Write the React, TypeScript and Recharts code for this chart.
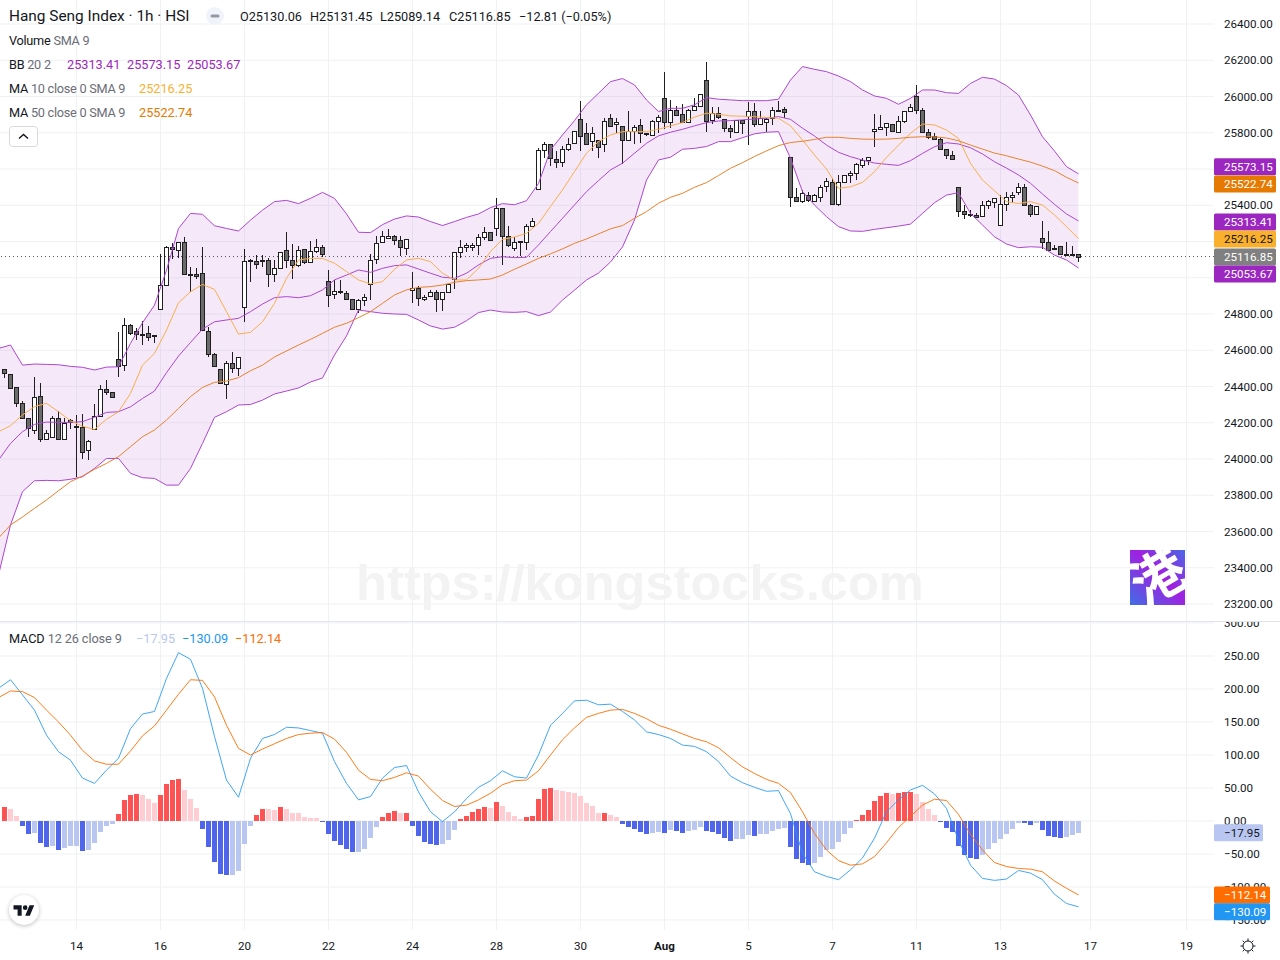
import React from "react";
import { ComposedChart, Bar, Line, Area, XAxis, YAxis, CartesianGrid, ReferenceLine, ReferenceDot } from "recharts";

const opens = [
24494,24467,24395,24307,24229,24158,24345,24108,24119,24229,
24113,24214,24181,24174,24047,24163,24240,24389,24367,24550,
24516,24737,24704,24687,24693,24684,24825,24958,25167,25151,
25195,25019,25019,25024,24704,24577,24494,24412,24528,24500,
24837,25096,25090,25096,25096,25019,25052,25151,25096,25069,
25157,25085,25146,25168,24980,24909,24925,24914,24881,24826,
24876,24964,25102,25196,25218,25229,25207,25162,24931,24942,
24881,24898,24920,24881,24920,24991,25140,25168,25170,25179,
25223,25251,25273,25383,25229,25162,25201,25196,25284,25488,
25703,25737,25654,25637,25709,25742,25874,25797,25753,25759,
25737,25880,25847,25836,25759,25808,25841,25797,25786,25863,
25990,25858,25924,25902,25858,25924,25946,26090,25869,25908,
25874,25825,25806,25869,25891,25919,25847,25858,25880,25928,
25930,25665,25444,25422,25455,25425,25447,25504,25526,25409,
25526,25565,25576,25620,25648,25808,25819,25830,25846,25802,
25863,25918,26001,25923,25802,25780,25763,25708,25675,25499,
25366,25350,25344,25339,25399,25416,25289,25405,25444,25471,
25499,25399,25350,25217,25195,25162,25173,25129,25129,25130.06];
const closes = [
24476,24393,24307,24228,24172,24340,24108,24146,24229,24113,
24201,24205,24174,24041,24097,24240,24384,24367,24340,24511,
24737,24693,24687,24685,24675,24682,24958,25167,25156,25195,
25019,25017,25007,24710,24577,24511,24417,24528,24500,24561,
25090,25092,25074,25094,25019,25052,25140,25096,25069,25151,
25085,25146,25168,25129,24903,24925,24923,24881,24826,24876,
24892,25096,25190,25229,25229,25207,25168,25212,24945,24887,
24892,24920,24881,24920,24964,25140,25168,25179,25179,25223,
25251,25207,25383,25229,25179,25196,25199,25284,25311,25703,
25737,25659,25637,25709,25737,25808,25781,25737,25797,25720,
25863,25836,25858,25759,25808,25830,25797,25792,25863,25886,
25858,25924,25897,25858,25924,25946,26012,25863,25908,25886,
25825,25808,25869,25852,25919,25847,25880,25874,25924,25924,
25917,25444,25422,25466,25428,25455,25499,25532,25409,25526,
25565,25576,25626,25648,25668,25819,25830,25852,25808,25863,
25918,25940,25923,25802,25775,25763,25708,25675,25653,25366,
25350,25348,25333,25399,25421,25438,25405,25444,25455,25499,
25399,25350,25394,25195,25151,25157,25129,25127,25127,25116.85];
const highs = [
24498,24467,24395,24320,24229,24454,24418,24159,24240,24264,
24229,24223,24242,24248,24105,24303,24408,24435,24367,24699,
24776,24744,24721,24761,24733,24684,25131,25175,25190,25195,
25223,25057,25052,25167,24726,24583,24494,24539,24588,24561,
25156,25101,25123,25123,25107,25098,25140,25253,25186,25175,
25157,25203,25214,25181,25043,24988,24990,24925,24881,24881,
24909,25131,25231,25258,25269,25236,25231,25212,25034,24955,
24905,24933,24933,24920,24964,25140,25208,25190,25190,25240,
25280,25251,25440,25383,25286,25225,25201,25295,25330,25714,
25748,25737,25698,25726,25770,25808,25974,25852,25829,25759,
25880,25902,25880,25836,25919,25841,25874,25801,25869,25897,
26134,25979,25946,25957,25930,25990,26012,26189,25941,25941,
25874,25841,25869,25869,25968,25963,25919,25880,25941,25974,
25941,25665,25494,25485,25475,25460,25512,25548,25548,25565,
25565,25587,25633,25659,25668,25901,25896,25852,25846,25890,
25918,25957,26063,25935,25819,25797,25769,25708,25697,25499,
25399,25372,25355,25421,25429,25438,25455,25473,25473,25521,
25515,25405,25394,25313,25258,25181,25173,25197,25175,25131.45];
const lows = [
24448,24390,24288,24222,24122,24137,24095,24108,24119,24113,
24113,24168,23899,23999,23994,24163,24240,24353,24340,24454,
24487,24684,24656,24629,24651,24642,24825,24958,25101,25109,
25019,24923,24993,24710,24564,24511,24417,24333,24476,24458,
24757,24978,25046,25057,24950,24979,25052,25052,24995,25058,
25076,25085,25139,25116,24841,24883,24911,24881,24826,24808,
24844,24879,25076,25196,25212,25181,25120,25126,24861,24844,
24874,24896,24813,24819,24914,24936,25107,25144,25148,25126,
25208,25207,25231,25072,25168,25150,25120,25153,25284,25488,
25659,25619,25608,25613,25698,25742,25702,25733,25702,25663,
25696,25830,25801,25626,25753,25740,25742,25783,25786,25797,
25819,25825,25897,25858,25858,25924,25946,25806,25847,25874,
25803,25770,25797,25794,25733,25829,25847,25806,25845,25913,
25880,25393,25422,25411,25417,25425,25420,25475,25403,25398,
25526,25521,25539,25603,25622,25723,25813,25782,25808,25797,
25852,25918,25901,25797,25763,25763,25708,25653,25653,25335,
25326,25333,25333,25339,25381,25386,25289,25370,25410,25455,
25399,25335,25350,25157,25151,25157,25123,25127,25127,25089.14];

// Indicator lines, read at every second bar starting one bar left of the view.
const bbUpper = [
24610,24629,24518,24524,24522,24520,24511,24506,24491,24507,24509,24638,24752,24849,25042,25272,25355,25350,25287,25272,25258,25318,25373,
25420,25427,25409,25438,25471,25438,25352,25251,25249,25293,25324,25341,25335,25310,25288,25310,25333,25352,25387,25409,25403,25425,25520,
25705,25788,25867,25954,26018,26082,26099,26064,25981,25917,25935,25935,25954,25994,25985,25981,25977,25977,25977,25985,26091,26165,
26150,26137,26113,26082,26036,26003,25990,25957,25990,26036,26036,26021,26017,26072,26106,26096,26060,26008,25898,25778,25699,25613,25573.15];
const bbLower = [
23360,23636,23820,23880,23882,23880,23888,23902,23948,24003,24003,23921,23897,23893,23856,23856,23948,24086,24230,24261,24298,24301,24325,
24359,24375,24392,24425,24447,24574,24679,24822,24813,24804,24800,24798,24767,24734,24717,24727,24763,24808,24822,24811,24809,24813,24791,
24811,24877,24932,24988,25026,25087,25170,25319,25539,25650,25665,25709,25714,25724,25751,25751,25773,25794,25803,25806,25659,25475,
25401,25337,25282,25258,25256,25267,25276,25285,25296,25355,25414,25456,25469,25355,25291,25226,25186,25166,25171,25168,25125,25098,25053.67];
const bbBasis = [
23994,24086,24151,24191,24204,24202,24202,24206,24230,24257,24261,24288,24334,24375,24476,24568,24643,24717,24757,24767,24776,24813,24855,
24890,24896,24890,24901,24933,24988,25015,25043,25030,25052,25067,25071,25048,25025,25003,24997,25025,25071,25107,25116,25111,25113,25181,
25255,25328,25402,25475,25536,25595,25632,25687,25742,25783,25803,25819,25838,25856,25865,25867,25871,25876,25880,25889,25874,25825,
25782,25732,25692,25668,25649,25633,25626,25620,25646,25686,25723,25745,25738,25717,25683,25640,25605,25567,25521,25462,25405,25352,25313.41];
const ma10 = [
24150,24184,24243,24289,24307,24261,24211,24181,24163,24219,24261,24362,24518,24583,24711,24862,24923,24963,24936,24813,24689,24699,24757,
24859,24997,25098,25107,25107,25080,25034,24988,24966,24979,25047,25098,25107,25089,25025,24988,24988,25052,25144,25212,25225,25245,25300,
25393,25485,25586,25687,25751,25788,25806,25806,25806,25819,25838,25856,25886,25908,25902,25893,25891,25889,25884,25880,25838,25760,
25677,25600,25493,25502,25526,25585,25664,25732,25797,25848,25843,25815,25769,25631,25539,25480,25420,25410,25420,25401,25346,25282,25216.25];
const ma50 = [
23564,23636,23680,23728,23774,23825,23875,23906,23943,23976,24013,24068,24123,24160,24215,24279,24344,24395,24423,24430,24449,24487,24518,
24563,24596,24629,24660,24693,24727,24749,24780,24813,24859,24905,24933,24947,24951,24960,24975,24984,24988,24993,25015,25047,25076,25107,
25132,25159,25190,25214,25242,25270,25288,25328,25365,25411,25444,25466,25499,25525,25564,25604,25635,25669,25700,25729,25746,25753,
25763,25775,25775,25769,25765,25764,25765,25769,25775,25778,25778,25771,25756,25732,25710,25688,25673,25655,25638,25616,25591,25554,25522.74];
const macdLine = [
201,214,191,168,130,105,92,65,57,77,95,140,162,166,216,255,245,201,128,62,36,95,125,
131,142,141,137,133,90,57,32,37,65,81,84,44,14,-1,14,34,51,61,76,67,65,100,
145,163,182,183,176,177,166,153,135,131,125,115,113,105,90,68,58,51,45,46,11,-49,
-77,-84,-89,-74,-56,-26,14,32,47,54,41,19,-29,-67,-87,-90,-88,-75,-79,-89,-111,-125,-130.09];
const signalLine = [
187,197,196,187,168,150,130,107,91,86,86,106,129,144,168,192,214,213,188,145,110,100,109,
117,125,131,133,134,124,104,77,63,61,66,73,68,48,31,22,24,32,42,55,61,62,76,
100,123,141,157,163,168,169,163,155,145,139,132,125,120,111,96,82,72,63,57,43,14,
-19,-44,-60,-67,-65,-54,-33,-10,7,24,33,31,10,-20,-44,-63,-69,-72,-73,-77,-91,-102,-112.14];
const histogram = [
21,18,8,-8,-20,-18,-33,-39,-38,-44,-41,-38,-38,-45,-44,-33,-17,-8,-5,11,
32,39,41,39,33,27,39,56,62,64,47,33,20,-12,-39,-62,-80,-82,-82,-76,
-35,-8,9,18,18,17,21,18,12,12,6,5,5,-1,-20,-30,-36,-42,-47,-47,
-42,-26,-9,6,12,15,12,12,-8,-23,-32,-35,-36,-35,-29,-14,3,8,14,18,
21,20,29,23,14,8,3,6,8,33,48,50,47,45,44,42,38,27,23,12,
12,9,6,-5,-9,-12,-17,-20,-18,-17,-18,-14,-15,-18,-15,-14,-9,-15,-17,-20,
-26,-30,-27,-27,-21,-23,-20,-20,-15,-12,-11,-39,-58,-64,-67,-64,-55,-44,-42,-32,
-20,-11,2,9,17,30,38,42,41,42,44,44,41,29,18,9,-2,-11,-17,-38,
-52,-56,-58,-52,-42,-33,-27,-20,-12,-3,-3,-6,-3,-14,-23,-24,-26,-24,-21,-17.95];
const histStrong = [
1,0,0,1,1,0,1,1,0,1,0,0,0,1,0,0,0,0,0,1,
1,1,1,0,0,0,1,1,1,1,0,0,0,1,1,1,1,1,0,0,
0,0,1,1,0,0,1,0,0,0,0,0,0,1,1,1,1,1,1,0,
0,0,0,1,1,1,0,1,1,1,1,1,1,0,0,0,1,1,1,1,
1,0,1,0,0,0,0,1,1,1,1,1,0,0,0,0,0,0,0,0,
1,0,0,1,1,1,1,1,0,0,1,0,1,1,0,0,0,1,1,1,
1,1,0,0,0,1,0,0,0,0,0,1,1,1,1,0,0,0,0,0,
0,0,1,1,1,1,1,1,0,1,1,1,0,0,0,0,1,1,1,1,
1,1,1,0,0,0,0,0,0,0,1,1,0,1,1,1,1,0,0,0];

const dayTicks = [12, 26, 40, 54, 68, 82, 96, 110, 124, 138, 152, 166, 181, 197];
const dayLabels = ["14", "16", "20", "22", "24", "28", "30", "Aug", "5", "7", "11", "13", "17", "19"];
const priceTicks = [23200,23400,23600,23800,24000,24200,24400,24600,24800,25000,25200,25400,25600,25800,26000,26200,26400];
const macdTicks = [-150,-100,-50,0,50,100,150,200,250,300];

const priceTags = [
  { value: 25573.15, shift: -7, fill: "#9C27C0", color: "#fff" },
  { value: 25522.74, shift: 1, fill: "#E67A00", color: "#fff" },
  { value: 25313.41, shift: 1, fill: "#9C27C0", color: "#fff" },
  { value: 25216.25, shift: 0.5, fill: "#FBB02D", color: "#131722" },
  { value: 25116.85, shift: 0.5, fill: "#808080", color: "#fff" },
  { value: 25053.67, shift: 6, fill: "#9C27C0", color: "#fff" },
];
const macdTags = [
  { value: -17.95, shift: 0, fill: "#B9C6F1", color: "#131722", w: 49 },
  { value: -112.14, shift: 0, fill: "#FF6D00", color: "#fff", w: 56 },
  { value: -130.09, shift: 5, fill: "#2196F3", color: "#fff", w: 56 },
];
const coveredPriceTicks = [25000, 25200, 25600];

const rows: any[] = [];
for (let k = -1; k < 180; k++) {
  const row: any = { k };
  if (k >= 0) {
    row.range = [lows[k], highs[k]];
    row.open = opens[k];
    row.close = closes[k];
    row.high = highs[k];
    row.low = lows[k];
    row.hist = histogram[k];
    row.strong = histStrong[k];
  }
  if ((k + 1) % 2 === 0) {
    const j = (k + 1) / 2;
    row.upper = bbUpper[j];
    row.lower = bbLower[j];
    row.basis = bbBasis[j];
    row.band = [bbLower[j], bbUpper[j]];
    row.ma10 = ma10[j];
    row.ma50 = ma50[j];
    row.macd = macdLine[j];
    row.signal = signalLine[j];
  }
  rows.push(row);
}

const FONT = "Roboto, sans-serif";
const INK = "#131722";
const MUTED = "#6A6D78";
const PURPLE = "#9C27C0";
const GRID = "#F0F1F5";
const X_DOMAIN = [-0.75, 201.583];
const PRICE_DOMAIN = [23106.3, 26532.4];
const MACD_DOMAIN = [-165.2, 301.5];

const fmtMinus = (v: number) => v.toFixed(2).replace("-", "\u2212");

function Candle(props: any) {
  const { x, y, width, height, payload } = props;
  if (!payload || payload.range == null) return null;
  const cx = Math.floor(x + width / 2 - 0.5) + 0.5;
  const span = payload.high - payload.low || 1;
  const toY = (v: number) => y + ((payload.high - v) / span) * height;
  const top = Math.round(toY(Math.max(payload.open, payload.close))) + 0.5;
  const bot = Math.max(Math.round(toY(Math.min(payload.open, payload.close))) + 0.5, top + 1);
  const up = payload.close > payload.open;
  return (
    <g shapeRendering="crispEdges">
      <line x1={cx} x2={cx} y1={y} y2={y + height} stroke="#1E1E1E" strokeWidth={1} />
      <rect x={cx - 2} y={top} width={4} height={bot - top} fill={up ? "#FFFFFF" : "#6B6B6B"} stroke="#1E1E1E" strokeWidth={1} />
    </g>
  );
}

function HistBar(props: any) {
  const { x, y, width, height, payload } = props;
  if (!payload || payload.hist == null) return null;
  const fill = payload.hist >= 0 ? (payload.strong ? "#FF5252" : "#FFCDD2") : payload.strong ? "#4F66EC" : "#B9C6F1";
  const top = Math.min(y, y + height);
  return <rect x={x - 0.5} y={top} width={width} height={Math.abs(height)} fill={fill} shapeRendering="crispEdges" />;
}

function tagShape(tag: any, width: number) {
  return (p: any) => (
    <g>
      <rect x={1214} y={p.cy + tag.shift - 8.5} width={width} height={17} rx={1.5} fill={tag.fill} />
      <text x={1224} y={p.cy + tag.shift + 4} fontSize={11.6} fontFamily={FONT} fill={tag.color}>
        {fmtMinus(tag.value)}
      </text>
    </g>
  );
}

function DayTick(props: any) {
  const { x, y, payload } = props;
  const label = dayLabels[dayTicks.indexOf(payload.value)];
  return (
    <text x={x} y={y + 12} textAnchor="middle" fontSize={11.6} fontFamily={FONT} fontWeight={label === "Aug" ? 700 : 400} fill={INK}>
      {label}
    </text>
  );
}

function T({ x, y, c = INK, s = 12.7, children }: any) {
  return (
    <span style={{ position: "absolute", left: x, top: y + 1, transform: "translateY(-50%)", color: c, fontSize: s, fontFamily: FONT, whiteSpace: "nowrap", lineHeight: 1 }}>
      {children}
    </span>
  );
}

function Label({ name, params, spacing = -0.25 }: any) {
  return (
    <span style={{ letterSpacing: spacing }}>
      {name} <span style={{ color: MUTED }}>{params}</span>
    </span>
  );
}

export default function App() {
  return (
    <div style={{ position: "absolute", left: 0, top: 0, width: 1280, height: 960, background: "#fff", overflow: "hidden" }}>
      {/* MACD pane */}
      <div style={{ position: "absolute", left: 0, top: 622 }}>
        <ComposedChart width={1280} height={338} data={rows} margin={{ top: 0, right: 0, bottom: 0, left: 0 }}>
          <CartesianGrid stroke={GRID} verticalValues={dayTicks} horizontalValues={macdTicks} />
          <XAxis dataKey="k" type="number" domain={X_DOMAIN} allowDataOverflow ticks={dayTicks} interval={0} height={30} axisLine={false} tickLine={false} tick={<DayTick />} />
          <YAxis orientation="right" width={66} domain={MACD_DOMAIN} allowDataOverflow ticks={macdTicks} interval={0} axisLine={false} tickLine={false} tickSize={0} tickMargin={10} tick={{ fontSize: 11.6, fontFamily: FONT, fill: INK }} tickFormatter={fmtMinus} />
          <Bar dataKey="hist" barSize={5} shape={<HistBar />} isAnimationActive={false} />
          <Line dataKey="macd" stroke="#2196F3" strokeWidth={1} strokeOpacity={0.85} dot={false} connectNulls isAnimationActive={false} />
          <Line dataKey="signal" stroke="#FF6D00" strokeWidth={1} strokeOpacity={0.9} dot={false} connectNulls isAnimationActive={false} />
        </ComposedChart>
      </div>
      {/* MACD value tags, above the axis labels */}
      <div style={{ position: "absolute", left: 0, top: 622 }}>
        <ComposedChart width={1280} height={338} data={rows} margin={{ top: 0, right: 66, bottom: 30, left: 0 }}>
          <XAxis dataKey="k" type="number" domain={X_DOMAIN} allowDataOverflow hide />
          <YAxis domain={MACD_DOMAIN} allowDataOverflow hide />
          {macdTags.map((t) => (
            <ReferenceDot key={t.value} x={179} y={t.value} ifOverflow="visible" shape={tagShape(t, t.w)} />
          ))}
        </ComposedChart>
      </div>

      {/* Price pane */}
      <div style={{ position: "absolute", left: 0, top: 0, width: 1280, height: 621, background: "#fff", borderBottom: "1px solid #E0E3EB" }}>
        <ComposedChart width={1280} height={621} data={rows} margin={{ top: 0, right: 0, bottom: 0, left: 0 }}>
          <CartesianGrid stroke={GRID} verticalValues={dayTicks} horizontalValues={priceTicks} />
          <XAxis dataKey="k" type="number" domain={X_DOMAIN} allowDataOverflow hide ticks={dayTicks} />
          <YAxis orientation="right" width={66} domain={PRICE_DOMAIN} allowDataOverflow ticks={priceTicks} interval={0} axisLine={false} tickLine={false} tickSize={0} tickMargin={10} tick={{ fontSize: 11.6, fontFamily: FONT, fill: INK }} tickFormatter={(v: number) => (coveredPriceTicks.includes(v) ? "" : v.toFixed(2))} />
          <Area dataKey="band" stroke="none" fill={PURPLE} fillOpacity={0.1} connectNulls dot={false} activeDot={false} isAnimationActive={false} />
          <Line dataKey="upper" stroke="#AB47D0" strokeWidth={1} dot={false} connectNulls isAnimationActive={false} />
          <Line dataKey="lower" stroke="#AB47D0" strokeWidth={1} dot={false} connectNulls isAnimationActive={false} />
          <Line dataKey="basis" stroke="#AB47D0" strokeWidth={1} dot={false} connectNulls isAnimationActive={false} />
          <Line dataKey="ma10" stroke="#F9AE4B" strokeWidth={1} dot={false} connectNulls isAnimationActive={false} />
          <Line dataKey="ma50" stroke="#E8822A" strokeWidth={1} dot={false} connectNulls isAnimationActive={false} />
          <Bar dataKey="range" barSize={5} shape={<Candle />} isAnimationActive={false} />
          <ReferenceLine y={25116.85} stroke="#555" strokeDasharray="1 3" />
        </ComposedChart>
      </div>
      <div style={{ position: "absolute", left: 0, top: 0 }}>
        <ComposedChart width={1280} height={621} data={rows} margin={{ top: 0, right: 66, bottom: 0, left: 0 }}>
          <XAxis dataKey="k" type="number" domain={X_DOMAIN} allowDataOverflow hide />
          <YAxis domain={PRICE_DOMAIN} allowDataOverflow hide />
          {priceTags.map((t) => (
            <ReferenceDot key={t.value} x={179} y={t.value} ifOverflow="visible" shape={tagShape(t, 62)} />
          ))}
        </ComposedChart>
      </div>

      {/* Legend */}
      <T x={9} y={16} s={15.4}>Hang Seng Index · 1h · HSI</T>
      <svg style={{ position: "absolute", left: 206, top: 7 }} width={18} height={18}>
        <circle cx={9} cy={9} r={9} fill="#F0F3FA" />
        <rect x={4.5} y={7.5} width={9} height={3} rx={1.5} fill="#9598A1" />
      </svg>
      <T x={240} y={16}>O25130.06</T>
      <T x={310} y={16}>H25131.45</T>
      <T x={380} y={16}>L25089.14</T>
      <T x={449} y={16}>C25116.85</T>
      <T x={519} y={16}>−12.81 (−0.05%)</T>
      <T x={9} y={40}><Label name="Volume" params="SMA 9" /></T>
      <T x={9} y={64}><Label name="BB" params="20 2" /></T>
      <T x={67} y={64} c={PURPLE}>25313.41</T>
      <T x={127} y={64} c={PURPLE}>25573.15</T>
      <T x={187} y={64} c={PURPLE}>25053.67</T>
      <T x={9} y={88}><Label name="MA" params="10 close 0 SMA 9" /></T>
      <T x={139} y={88} c="#FBB02D">25216.25</T>
      <T x={9} y={112}><Label name="MA" params="50 close 0 SMA 9" /></T>
      <T x={139} y={112} c="#E67A00">25522.74</T>
      <svg style={{ position: "absolute", left: 9, top: 126 }} width={29} height={21}>
        <rect x={0.5} y={0.5} width={28} height={20} rx={3} fill="#fff" stroke="#D6D8E0" />
        <path d="M10 12.5 L14.5 8.5 L19 12.5" fill="none" stroke="#131722" strokeWidth={1.4} />
      </svg>
      <T x={9} y={638}><Label name="MACD" params="12 26 close 9" spacing={-0.1} /></T>
      <T x={136} y={638} c="#B9C6F1">−17.95</T>
      <T x={182} y={638} c="#2196F3">−130.09</T>
      <T x={235} y={638} c="#FF6D00">−112.14</T>

      {/* Watermark */}
      <span style={{ position: "absolute", left: 356, top: 583, transform: "translateY(-50%)", fontFamily: "'Liberation Sans', sans-serif", fontWeight: 700, fontSize: 50.6, color: "#F3F3F3", whiteSpace: "nowrap", lineHeight: 1 }}>
        https://kongstocks.com
      </span>
      <svg style={{ position: "absolute", left: 1130, top: 550 }} width={55} height={55}>
        <defs>
          <linearGradient id="lg" x1="0" y1="1" x2="1" y2="0">
            <stop offset="0" stopColor="#3F6FE6" />
            <stop offset="0.55" stopColor="#A020E0" />
            <stop offset="1" stopColor="#4B66E6" />
          </linearGradient>
        </defs>
        <rect width={55} height={55} fill="url(#lg)" />
        <text x={28} y={47} textAnchor="middle" fontSize={54} fontWeight={700} fontFamily="'Noto Sans CJK SC'" fill="#fff" transform="rotate(-30 27 27)">港</text>
      </svg>

      {/* Logo and settings */}
      <div style={{ position: "absolute", left: 9, top: 895, width: 30, height: 30, borderRadius: 15, background: "#fff", boxShadow: "0 1px 4px rgba(0,0,0,.25)" }} />
      <svg style={{ position: "absolute", left: 13, top: 903 }} width={22} height={14} viewBox="0 0 36 24">
        <path d="M14 22H7V11H0V4h14v18zM28 22h-8l7.5-18h8L28 22z" fill="#131722" />
        <circle cx={20} cy={8} r={4} fill="#131722" />
      </svg>
      <svg style={{ position: "absolute", left: 1239, top: 937 }} width={18} height={18}>
        <circle cx={9} cy={9} r={5} fill="none" stroke="#131722" />
        <path d="M9 1.5V4M9 14v2.5M1.5 9H4M14 9h2.5M3.7 3.7l1.8 1.8M12.5 12.5l1.8 1.8M3.7 14.3l1.8-1.8M12.5 5.5l1.8-1.8" stroke="#131722" />
      </svg>
    </div>
  );
}
